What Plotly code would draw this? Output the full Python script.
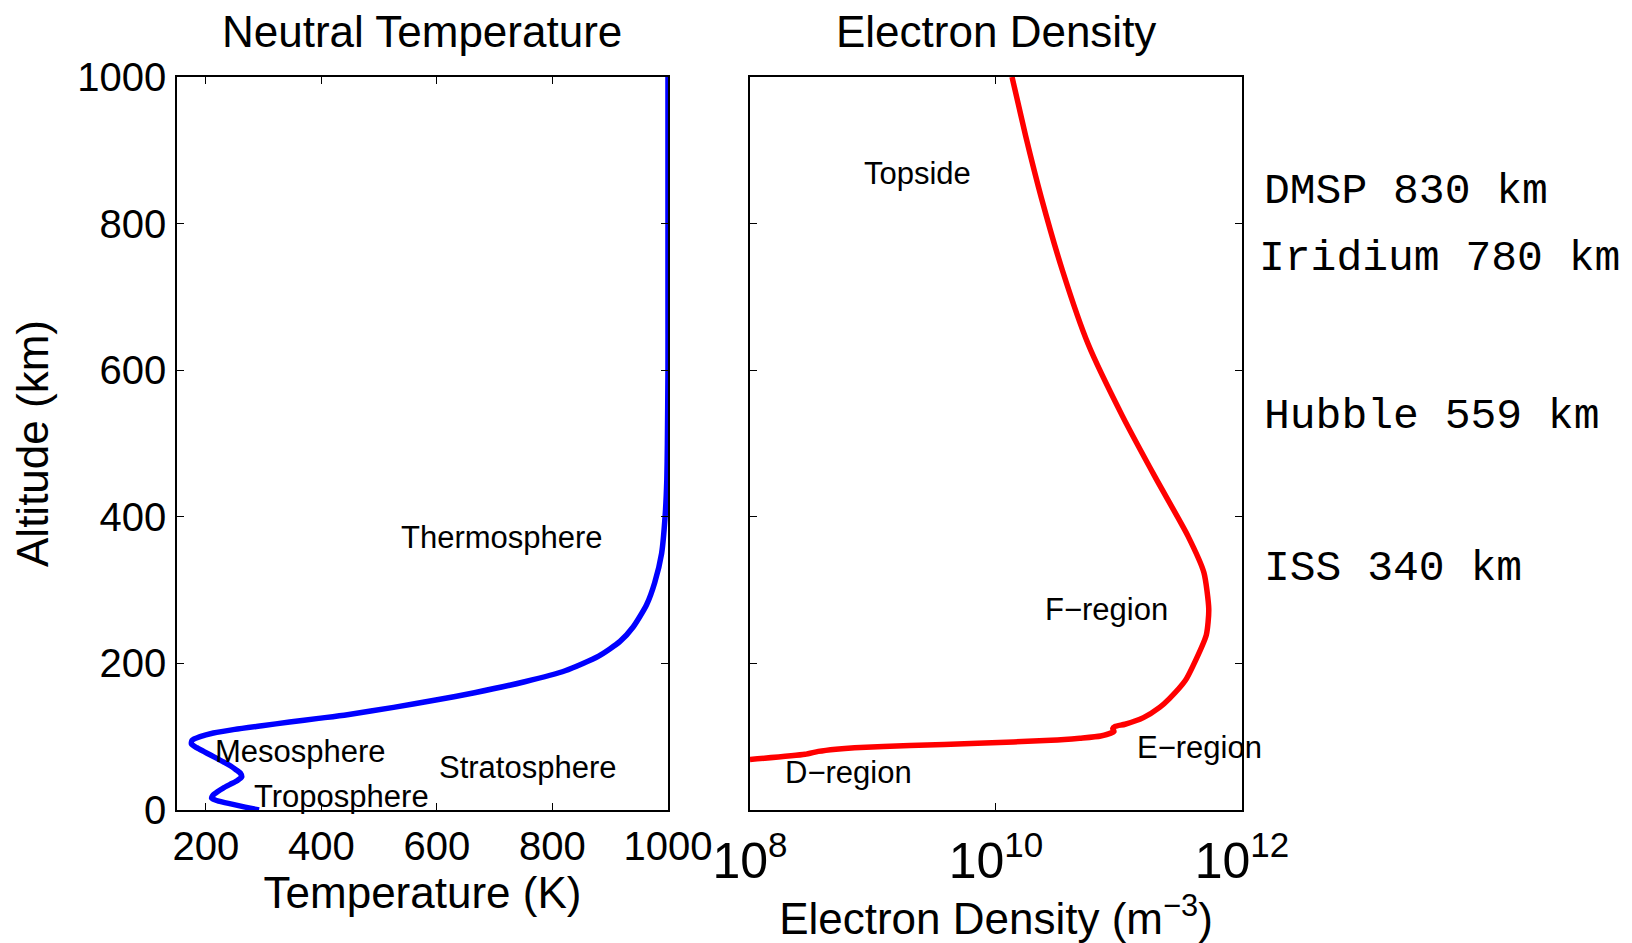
import plotly.graph_objects as go

# ---------------- data ----------------
# Neutral temperature profile
temp_alt_km = [0, 4, 8, 12, 16, 20, 25, 30, 35, 40, 45, 50, 55, 60, 65, 70, 75, 80, 85, 90,
               95, 100, 105, 110, 115, 120, 125, 130, 140, 150, 160, 175, 190, 210, 230, 250,
               280, 310, 350, 400, 450, 500, 600, 700, 800, 900, 1000]
temp_K = [292, 268, 245, 222, 210, 212, 220, 230, 242, 254, 262, 260, 252, 243, 232, 220, 208, 196, 184, 175,
          176, 190, 213, 250, 297, 345, 395, 445, 525, 598, 665, 752, 822, 880, 917, 940,
          963, 977, 989, 995, 998, 999, 1000, 1000, 1000, 1000, 1000]

# Electron density profile
ne_alt_km = [69, 76, 80, 83, 85, 88, 91, 95, 98, 101, 107, 111, 114, 117, 126, 140, 152, 177, 196,
             239, 274, 324, 374, 452, 537, 636, 736, 835, 920, 1000]
ne_m3 = [1.0e8, 2.8e8, 3.6e8, 5.0e8, 7.1e8, 2.0e9, 7.1e9, 2.8e10, 4.8e10, 7.1e10, 9.1e10, 8.9e10,
         9.3e10, 1.12e11, 1.58e11, 2.14e11, 2.57e11, 3.47e11, 3.98e11, 5.13e11, 5.37e11, 4.90e11,
         3.63e11, 2.0e11, 1.07e11, 5.6e10, 3.47e10, 2.34e10, 1.74e10, 1.35e10]

temp_ticks = [200, 400, 600, 800, 1000]
alt_ticks = [0, 200, 400, 600, 800, 1000]

layer_names_T = ["Thermosphere", "Mesosphere", "Stratosphere", "Troposphere"]
layer_names_Ne = ["Topside", "F\u2212region", "E\u2212region", "D\u2212region"]
satellites = ["DMSP 830 km", "Iridium 780 km", "Hubble 559 km", "ISS 340 km"]

# ---------------- layout helpers (positions, not data) ----------------
T_label_pos = [(535, 372), (213, 80), (600, 58), (280, 18)]          # (K, km)
Ne_label_pos = [(8.91, 869), (10.38, 274), (11.13, 85), (8.27, 51)]   # (log10 m^-3, km)
sat_label_y = [844, 752, 537, 330]                                     # km
sat_label_x = [1.0185, 1.014, 1.0185, 1.0185]                          # paper

FONT = "Liberation Sans, Arial, Helvetica, sans-serif"
MONO = "Courier New, Liberation Mono, monospace"

fig = go.Figure()
fig.add_trace(go.Scatter(x=temp_K, y=temp_alt_km, mode="lines",
                         line=dict(color="#0000FF", width=5.5, shape="spline", smoothing=0.6),
                         xaxis="x", yaxis="y", showlegend=False, cliponaxis=True))
fig.add_trace(go.Scatter(x=ne_m3, y=ne_alt_km, mode="lines",
                         line=dict(color="#FF0000", width=5.5, shape="spline", smoothing=0.6),
                         xaxis="x2", yaxis="y2", showlegend=False, cliponaxis=True))

axis_common = dict(showline=True, linecolor="black", linewidth=1.5, mirror="ticks",
                   ticks="inside", ticklen=7, tickwidth=1.2, tickcolor="black",
                   showgrid=False, zeroline=False,
                   tickfont=dict(family=FONT, size=40, color="black"))

fig.update_layout(
    width=1624, height=935,
    margin=dict(l=169, r=390, t=69, b=133),
    paper_bgcolor="white", plot_bgcolor="white",
    font=dict(family=FONT, color="black"),
    xaxis=dict(domain=[0, 0.461], range=[150, 1000], tickvals=temp_ticks,
               ticklabelstandoff=0,
               title=dict(text="Temperature (K)", font=dict(size=44), standoff=4),
               anchor="y", **axis_common),
    yaxis=dict(domain=[0, 1], range=[0, 1000], tickvals=alt_ticks,
               ticklabelstandoff=1,
               title=dict(text="Altitude (km)", font=dict(size=44), standoff=18),
               anchor="x", **axis_common),
    xaxis2=dict(domain=[0.538, 1], type="log", range=[8, 12], tickmode="linear", tick0=0, dtick=2,
                exponentformat="power", showexponent="all", ticklabelstandoff=8,
                title=dict(text="Electron Density (m<sup>\u22123</sup>)", font=dict(size=44), standoff=4),
                anchor="y2", **axis_common),
    yaxis2=dict(domain=[0, 1], range=[0, 1000], tickvals=alt_ticks, showticklabels=False,
                anchor="x2", **axis_common),
)

ann = []
# panel titles
ann.append(dict(text="Neutral Temperature", xref="x domain", yref="paper", x=0.5, y=1.0,
                yshift=46, xanchor="center", yanchor="middle", showarrow=False, borderpad=0,
                font=dict(family=FONT, size=44, color="black")))
ann.append(dict(text="Electron Density", xref="x2 domain", yref="paper", x=0.5, y=1.0,
                yshift=46, xanchor="center", yanchor="middle", showarrow=False, borderpad=0,
                font=dict(family=FONT, size=44, color="black")))
for name, (x, y) in zip(layer_names_T, T_label_pos):
    ann.append(dict(text=name, xref="x", yref="y", x=x, y=y, xanchor="left", yanchor="middle",
                    showarrow=False, font=dict(family=FONT, size=31, color="black")))
for name, (x, y) in zip(layer_names_Ne, Ne_label_pos):
    ann.append(dict(text=name, xref="x2", yref="y2", x=x, y=y, xanchor="left", yanchor="middle",
                    showarrow=False, font=dict(family=FONT, size=31, color="black")))
for name, x, y in zip(satellites, sat_label_x, sat_label_y):
    ann.append(dict(text=name, xref="paper", yref="y2", x=x, y=y, xanchor="left", yanchor="middle",
                    showarrow=False, font=dict(family=MONO, size=43, color="black")))
fig.update_layout(annotations=ann)

fig.write_html("out.html")
